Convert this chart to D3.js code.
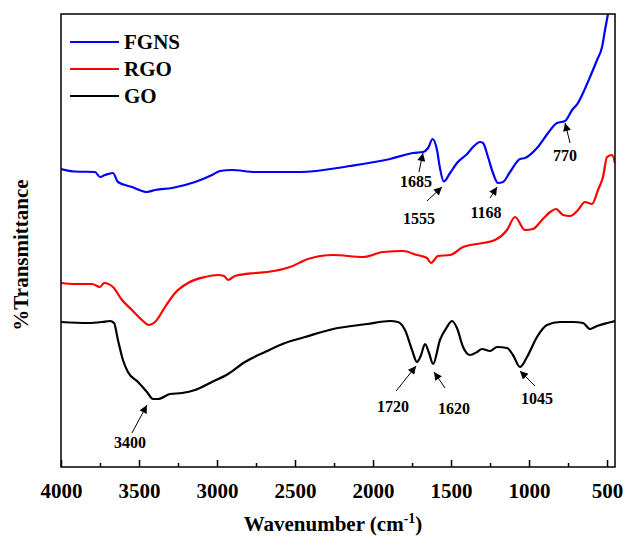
<!DOCTYPE html>
<html><head><meta charset="utf-8">
<script src="https://cdn.jsdelivr.net/npm/d3@7/dist/d3.min.js"></script>
<style>body{margin:0;background:#fff}svg{display:block}</style>
</head><body>
<svg id="c" width="624" height="540"></svg>
<script>
// ---- data (wavenumber in cm^-1, transmittance in arbitrary units) ----
const seriesNames = ["FGNS", "RGO", "GO"];
const seriesColors = ["#0000ff", "#ff0000", "#000000"];

const fgnsWn = [4000,3910,3782,3750,3718,3667,3635,3545,3449,3397,3288,3141,3032,2981,2904,2756,2468,2147,1891,1744,1680,1647,1618,1590,1571,1547,1506,1462,1397,1359,1314,1295,1263,1231,1199,1167,1122,1058,1026,949,878,821,769,724,686,654,609,564,532,513,494,474];
const fgnsT  = [59.6,59.1,59.0,58.0,58.4,58.8,57.0,56.0,55.0,55.4,55.8,57.0,58.4,59.2,59.4,59.0,59.0,60.2,61.6,62.8,63.0,63.8,65.6,63.4,59.8,57.1,58.8,60.8,62.6,64.0,65.0,64.8,62.0,58.8,56.8,57.0,59.0,61.6,61.8,63.8,66.8,68.8,69.2,71.4,72.8,74.8,78.0,81.4,84.0,87.4,90.6,93.8];

const rgoWn = [4000,3910,3801,3750,3724,3667,3609,3545,3481,3436,3397,3333,3269,3186,3077,2994,2955,2929,2885,2756,2679,2532,2417,2256,2064,1936,1808,1718,1654,1628,1583,1506,1423,1295,1218,1141,1090,1026,974,917,865,827,782,737,686,641,596,558,526,500,468,449];
const rgoT  = [36.8,36.6,36.6,36.0,36.8,36.0,33.4,31.4,29.4,28.4,29.0,32.0,34.8,36.8,38.0,38.4,38.2,37.4,38.2,38.8,39.0,40.0,41.6,42.4,42.0,43.0,43.2,42.4,41.8,40.8,42.2,42.4,44.0,44.8,45.4,47.4,50.0,47.4,47.6,49.4,51.0,51.6,50.4,50.2,51.4,53.0,52.6,55.4,58.0,62.0,62.4,60.8];

const goWn = [4000,3827,3737,3686,3660,3635,3603,3571,3506,3449,3410,3378,3301,3224,3141,3032,2929,2821,2692,2564,2436,2256,2038,1891,1840,1795,1750,1718,1692,1667,1641,1615,1571,1526,1494,1462,1423,1378,1333,1301,1250,1205,1141,1103,1058,1013,949,885,801,718,654,609,564,500,449];
const goT  = [29.0,28.8,29.0,29.2,28.8,25.4,21.4,19.0,17.0,15.0,13.6,13.6,14.6,14.8,15.4,17.0,18.6,21.0,23.0,24.8,26.0,27.6,28.6,29.2,29.0,27.4,23.4,21.0,22.4,24.6,22.8,20.6,25.4,28.0,29.2,27.8,24.0,22.4,23.0,23.6,23.2,24.0,23.8,22.4,20.0,22.0,26.0,28.4,29.0,29.0,28.8,27.6,28.2,28.8,29.2];

const xTickMajor = [4000,3500,3000,2500,2000,1500,1000,500];
const xTickMinor = [3750,3250,2750,2250,1750,1250,750];

// annotations: label, wavenumber of arrow tip, value of arrow tip
const annLabels = ["1685","1555","1168","770","3400","1720","1620","1045"];
const annWn     = [1680,1558,1205,769,3449,1724,1609,1058];
const annT      = [62.8,56.0,56.0,68.8,12.4,20.2,19.0,19.2];

// ---- layout ----
const svg = d3.select("#c");
const L = 61, T = 14, R = 615, B = 467;
const x = d3.scaleLinear().domain([4000, 449]).range([L, R]);
const y = d3.scaleLinear().domain([0, 90.6]).range([B, T]);
const font = "'Liberation Serif','Times New Roman',serif";

svg.append("defs").append("clipPath").attr("id","clip")
  .append("rect").attr("x",L).attr("y",T).attr("width",R-L).attr("height",B-T);
const mk = svg.select("defs").append("marker").attr("id","arr")
  .attr("viewBox","0 0 10 10").attr("refX",10).attr("refY",5)
  .attr("markerWidth",10).attr("markerHeight",8).attr("markerUnits","userSpaceOnUse")
  .attr("orient","auto");
mk.append("path").attr("d","M0,0 L10,5 L0,10 Z").attr("fill","#000");

const line = d3.line().x(d=>x(d[0])).y(d=>y(d[1])).curve(d3.curveMonotoneX);
const allSeries = [
  d3.zip(fgnsWn, fgnsT),
  d3.zip(rgoWn, rgoT),
  d3.zip(goWn, goT)
];
const g = svg.append("g").attr("clip-path","url(#clip)");
allSeries.forEach((s,i)=>{
  g.append("path").datum(s).attr("d",line).attr("fill","none")
    .attr("stroke",seriesColors[i]).attr("stroke-width",2.2).attr("stroke-linejoin","round");
});

// frame
svg.append("rect").attr("x",L).attr("y",T).attr("width",R-L).attr("height",B-T)
  .attr("fill","none").attr("stroke","#000").attr("stroke-width",1.5);

// x axis (ticks inward)
const axMaj = d3.axisBottom(x).tickValues(xTickMajor).tickSize(-7).tickPadding(16).tickFormat(d3.format("d"));
const ga = svg.append("g").attr("transform",`translate(0,${B})`).call(axMaj);
ga.select(".domain").remove();
ga.selectAll("line").attr("stroke","#000").attr("stroke-width",1.5);
ga.selectAll("text").attr("font-family",font).attr("font-weight","bold").attr("font-size",21).attr("fill","#000");
const axMin = d3.axisBottom(x).tickValues(xTickMinor).tickSize(-4).tickFormat("");
const gm = svg.append("g").attr("transform",`translate(0,${B})`).call(axMin);
gm.select(".domain").remove();
gm.selectAll("line").attr("stroke","#000").attr("stroke-width",1.5);

// axis titles
const xt = svg.append("text").attr("x",333).attr("y",531).attr("text-anchor","middle")
  .attr("font-family",font).attr("font-weight","bold").attr("font-size",21);
xt.append("tspan").text("Wavenumber (cm");
xt.append("tspan").attr("dy",-8).attr("font-size",14).text("-1");
xt.append("tspan").attr("dy",8).text(")");

svg.append("text").attr("transform","translate(28,255) rotate(-90)").attr("text-anchor","middle")
  .attr("font-family",font).attr("font-weight","bold").attr("font-size",21).text("%Transmittance");

// legend
seriesNames.forEach((n,i)=>{
  const yy = 42 + i*27;
  svg.append("line").attr("x1",70).attr("x2",119).attr("y1",yy).attr("y2",yy)
    .attr("stroke",seriesColors[i]).attr("stroke-width",2.2);
  svg.append("text").attr("x",124).attr("y",yy+7).attr("font-family",font)
    .attr("font-weight","bold").attr("font-size",21).text(n);
});

// annotations: tail offset and label offset from tip (pixels)
const tailOff  = [[-4,19],[-15,14],[-7,11],[5,20],[-15,28],[-20,25],[11,16],[15,15]];
const labelOff = [[-7,34],[-23,37],[-11,31],[0,38],[-17,43],[-23,46],[20,42],[17,33]];
annLabels.forEach((lab,i)=>{
  const tx = x(annWn[i]), ty = y(annT[i]);
  svg.append("line").attr("x1",tx+tailOff[i][0]).attr("y1",ty+tailOff[i][1])
    .attr("x2",tx).attr("y2",ty).attr("stroke","#000").attr("stroke-width",1)
    .attr("marker-end","url(#arr)");
  svg.append("text").attr("x",tx+labelOff[i][0]).attr("y",ty+labelOff[i][1])
    .attr("text-anchor","middle").attr("font-family",font).attr("font-weight","bold")
    .attr("font-size",16).text(lab);
});
</script>
</body></html>
